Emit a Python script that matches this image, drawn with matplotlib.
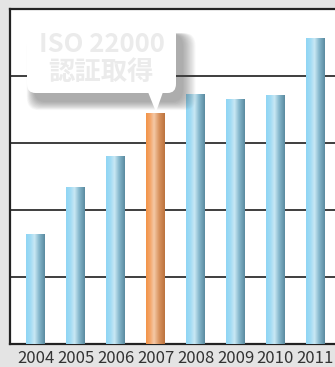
import numpy as np
import matplotlib.pyplot as plt
from matplotlib.colors import LinearSegmentedColormap
from matplotlib.patches import FancyBboxPatch, Polygon

years = ['2004', '2005', '2006', '2007', '2008', '2009', '2010', '2011']
values = [1.64, 2.34, 2.81, 3.45, 3.73, 3.66, 3.72, 4.56]
highlight = '2007'
callout_lines = ['ISO 22000', '認証取得']

W, H = 335, 367
fig = plt.figure(figsize=(W / 100, H / 100), dpi=100)
fig.patch.set_facecolor('#e4e4e4')

# axes box in pixels: left 10, top 9, bottom 344, runs off the right edge
ax = fig.add_axes([10 / W, (H - 344) / H, (W - 10) / W, 335 / H])
ax.set_facecolor('white')
ax.set_xlim(-0.64, 7.49)
ax.set_ylim(0, 5)

blue = LinearSegmentedColormap.from_list(
    'blue', [(0, '#8fd5f4'), (0.25, '#a3dcf4'), (0.45, '#c9e8f4'),
             (0.7, '#85b7cc'), (1, '#5b8ba0')])
orange = LinearSegmentedColormap.from_list(
    'orange', [(0, '#f29448'), (0.22, '#f4a66b'), (0.42, '#f5c9a6'),
               (0.7, '#d8925e'), (1, '#bc733e')])

grad = np.linspace(0, 1, 64).reshape(1, -1)
bars = ax.bar(years, values, width=0.475, color='none', zorder=3)
for bar, yr in zip(bars, years):
    x0 = bar.get_x()
    cmap = orange if yr == highlight else blue
    im = ax.imshow(grad, cmap=cmap, aspect='auto', zorder=3,
                   extent=[x0, x0 + bar.get_width(), 0, bar.get_height()])
    im.set_clip_path(bar)

for y in [1, 2, 3, 4]:
    ax.axhline(y, color='#1e1e1e', lw=1.2, zorder=1)

for side in ['left', 'top', 'bottom']:
    ax.spines[side].set_color('#222222')
    ax.spines[side].set_linewidth(1.6)
ax.spines['right'].set_visible(False)
ax.tick_params(axis='y', left=False, labelleft=False)
ax.tick_params(axis='x', length=0, pad=4, labelsize=12, labelcolor='#333333')
for lab in ax.get_xticklabels():
    lab.set_family(['Noto Sans CJK JP', 'DejaVu Sans'])

# callout bubble, drawn in figure pixels
def px(x, y):
    return x / W, 1 - y / H

bx0, bx1, by0, by1 = 27, 176, 25, 93
tip = (156, 112)
for i in range(16):
    g = i * 1.2
    sh = FancyBboxPatch(px(bx0 + 7 - g * 0.4, by1 + 9 + g * 0.45),
                        (bx1 - bx0 + g * 1.1) / W, (by1 - by0 + g * 0.5) / H,
                        boxstyle='round,pad=0,rounding_size=0.035',
                        transform=fig.transFigure, fc='#404040', ec='none',
                        alpha=0.033, zorder=4)
    fig.add_artist(sh)

box = FancyBboxPatch(px(bx0, by1), (bx1 - bx0) / W, (by1 - by0) / H,
                     boxstyle='round,pad=0,rounding_size=0.025',
                     transform=fig.transFigure, fc='white', ec='none', zorder=5)
fig.add_artist(box)
ptr = Polygon([px(148, by1 - 1), px(163, by1 - 1), px(*tip)], closed=True,
              transform=fig.transFigure, fc='white', ec='none', zorder=5)
fig.add_artist(ptr)

fig.text(*px(101.5, 44), callout_lines[0], ha='center', va='center',
         fontsize=18.5, fontweight='bold', color='#ebebeb', zorder=6,
         family=['Noto Sans CJK JP', 'DejaVu Sans'])
fig.text(*px(101, 72), callout_lines[1], ha='center', va='center',
         fontsize=19, fontweight='bold', color='#ebebeb', zorder=6,
         family=['Noto Sans CJK JP', 'DejaVu Sans'])

fig.savefig('out.png', dpi=100, facecolor=fig.get_facecolor())
